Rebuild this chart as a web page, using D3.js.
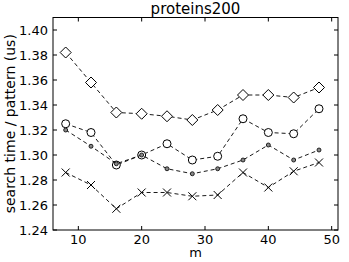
<!DOCTYPE html>
<html>
<head>
<meta charset="utf-8">
<script src="https://cdn.jsdelivr.net/npm/d3@7"></script>
<style>
  body { margin: 0; background: #fff; }
  text { font-family: "DejaVu Sans", sans-serif; fill: #000; }
</style>
</head>
<body>
<svg id="chart" width="349" height="262"></svg>
<script>
// values
var mValues = [8, 12, 16, 20, 24, 28, 32, 36, 40, 44, 48];
var diamondSeries = [1.382, 1.358, 1.334, 1.333, 1.331, 1.328, 1.336, 1.348, 1.348, 1.346, 1.354];
var circleSeries  = [1.325, 1.318, 1.292, 1.300, 1.309, 1.296, 1.299, 1.329, 1.318, 1.317, 1.337];
var dotSeries     = [1.320, 1.307, 1.293, 1.300, 1.289, 1.285, 1.289, 1.296, 1.308, 1.296, 1.304];
var crossSeries   = [1.286, 1.276, 1.257, 1.270, 1.270, 1.267, 1.268, 1.286, 1.274, 1.287, 1.294];
var xTicks = [10, 20, 30, 40, 50];
var yTicks = [1.24, 1.26, 1.28, 1.30, 1.32, 1.34, 1.36, 1.38, 1.40];

var svg = d3.select("#chart");
var margin = {left: 53, top: 17.5, right: 11, bottom: 32};
var W = 349, H = 262;
var x = d3.scaleLinear().domain([6, 51]).range([margin.left, W - margin.right]);
var y = d3.scaleLinear().domain([1.24, 1.41]).range([H - margin.bottom, margin.top]);

var g = svg.append("g");

// series
var series = [
  {vals: diamondSeries, marker: "diamond"},
  {vals: circleSeries, marker: "circle"},
  {vals: dotSeries, marker: "dot"},
  {vals: crossSeries, marker: "cross"}
];

var line = d3.line().x(function(d) { return x(d[0]); }).y(function(d) { return y(d[1]); });

series.forEach(function(s) {
  var pts = mValues.map(function(m, i) { return [m, s.vals[i]]; });
  g.append("path")
    .attr("d", line(pts))
    .attr("fill", "none")
    .attr("stroke", "#000")
    .attr("stroke-width", 0.9)
    .attr("stroke-dasharray", "4,3");

  var mk = g.selectAll(null).data(pts).enter().append("g")
    .attr("transform", function(d) { return "translate(" + x(d[0]) + "," + y(d[1]) + ")"; });

  if (s.marker === "diamond") {
    mk.append("path").attr("d", "M0,-5.5L5.5,0L0,5.5L-5.5,0Z")
      .attr("fill", "#fff").attr("stroke", "#000").attr("stroke-width", 1);
  } else if (s.marker === "circle") {
    mk.append("circle").attr("r", 4)
      .attr("fill", "#fff").attr("stroke", "#000").attr("stroke-width", 1);
  } else if (s.marker === "dot") {
    mk.append("circle").attr("r", 2)
      .attr("fill", "#888").attr("stroke", "#000").attr("stroke-width", 0.8);
  } else {
    mk.append("path").attr("d", "M-4,-4L4,4M-4,4L4,-4")
      .attr("stroke", "#000").attr("stroke-width", 1);
  }
});

// frame
var x0 = x.range()[0], x1 = x.range()[1], y0 = y.range()[0], y1 = y.range()[1];
g.append("rect")
  .attr("x", x0).attr("y", y1).attr("width", x1 - x0).attr("height", y0 - y1)
  .attr("fill", "none").attr("stroke", "#000").attr("stroke-width", 1);

// inward ticks on all sides
var tl = 4;
xTicks.forEach(function(t) {
  g.append("line").attr("x1", x(t)).attr("x2", x(t)).attr("y1", y0).attr("y2", y0 - tl).attr("stroke", "#000");
  g.append("line").attr("x1", x(t)).attr("x2", x(t)).attr("y1", y1).attr("y2", y1 + tl).attr("stroke", "#000");
  g.append("text").attr("x", x(t)).attr("y", y0 + 14).attr("text-anchor", "middle")
    .style("font-size", "13px").text(t);
});
yTicks.forEach(function(t) {
  g.append("line").attr("x1", x0).attr("x2", x0 + tl).attr("y1", y(t)).attr("y2", y(t)).attr("stroke", "#000");
  g.append("line").attr("x1", x1).attr("x2", x1 - tl).attr("y1", y(t)).attr("y2", y(t)).attr("stroke", "#000");
  g.append("text").attr("x", x0 - 5).attr("y", y(t)).attr("dy", "0.35em").attr("text-anchor", "end")
    .style("font-size", "13px").text(d3.format(".2f")(t));
});

// labels
svg.append("text").attr("x", (x0 + x1) / 2).attr("y", 14).attr("text-anchor", "middle")
  .style("font-size", "15px").text("proteins200");
svg.append("text").attr("x", (x0 + x1) / 2).attr("y", 257).attr("text-anchor", "middle")
  .style("font-size", "13px").text("m");
svg.append("text")
  .attr("transform", "translate(15," + ((y0 + y1) / 2) + ") rotate(-90)")
  .attr("text-anchor", "middle")
  .style("font-size", "14px").text("search time / pattern (us)");
</script>
</body>
</html>
